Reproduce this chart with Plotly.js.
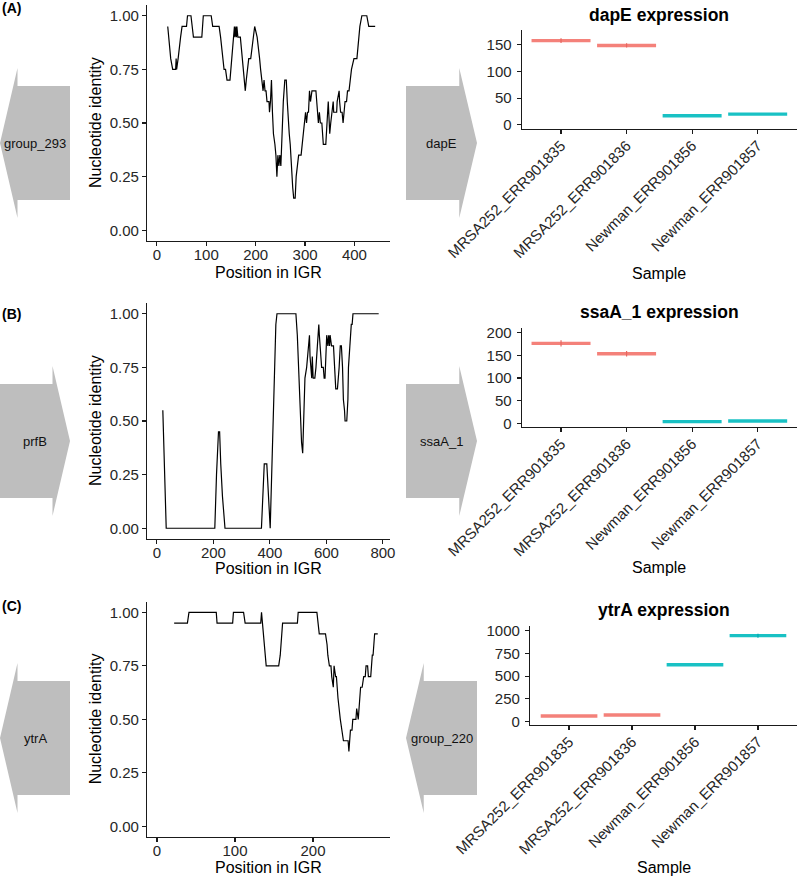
<!DOCTYPE html>
<html><head><meta charset="utf-8">
<script src="https://cdn.plot.ly/plotly-3.0.1.min.js"></script>
<style>html,body{margin:0;padding:0;background:#fff}#chart{width:797px;height:880px}</style>
</head><body><div id="chart"></div>
<script>
// ---------- DATA ----------
const posA = [22,25,28,32,38,39,40,43,45,48,51,60,62,69,74,91,94,110,113,126,129,131,133,136,139,142,148,150,152,153,155,157,158,160,161,162,164,169,171,173,175,177,179,181,183,186,190,193,195,198,203,206,208,210,213,215,217,219,221,223,227,228,230,232,234,236,239,241,243,245,247,249,251,253,256,259,262,264,266,268,270,272,273,275,277,280,282,285,287,292,294,296,299,301,303,305,307,309,311,314,322,324,325,327,329,331,334,335,337,342,343,345,346,347,349,350,352,355,357,358,364,365,369,370,372,375,377,379,381,384,386,389,392,394,399,405,407,409,411,415,425,429,442];
const idA = [0.95,0.85,0.80,0.75,0.75,0.80,0.75,0.80,0.85,0.90,0.95,0.95,1,1,0.90,0.90,1,1,0.95,0.95,0.90,0.85,0.80,0.75,0.75,0.70,0.70,0.75,0.80,0.85,0.90,0.95,0.90,0.95,0.90,0.95,0.90,0.90,0.85,0.80,0.75,0.70,0.65,0.70,0.75,0.80,0.80,0.85,0.90,0.95,0.90,0.85,0.80,0.75,0.70,0.65,0.70,0.65,0.65,0.60,0.60,0.55,0.60,0.70,0.55,0.45,0.40,0.35,0.25,0.35,0.30,0.35,0.30,0.45,0.60,0.70,0.70,0.60,0.50,0.45,0.40,0.30,0.25,0.20,0.15,0.15,0.25,0.30,0.35,0.35,0.40,0.45,0.50,0.55,0.50,0.55,0.55,0.65,0.60,0.65,0.65,0.60,0.55,0.50,0.55,0.50,0.50,0.45,0.40,0.40,0.45,0.50,0.55,0.60,0.50,0.45,0.50,0.55,0.60,0.55,0.55,0.60,0.65,0.60,0.55,0.55,0.50,0.55,0.60,0.60,0.65,0.65,0.70,0.75,0.80,0.80,0.85,0.90,0.95,1,1,0.95,0.95];

const posB = [21,33,205,208,211,218,222,226,232,241,370,380,389,401,421,425,492,497,502,506,512,516,519,521,524,530,534,540,542,545,548,550,553,559,563,568,573,575,580,583,589,592,595,599,601,605,608,611,613,618,625,629,633,639,643,645,649,653,657,660,664,666,672,676,678,682,684,688,691,694,785];
const idB = [0.55,0,0,0.15,0.25,0.45,0.45,0.30,0.15,0,0,0.30,0.30,0,0.95,1,1,0.90,0.75,0.55,0.40,0.35,0.45,0.60,0.70,0.75,0.80,0.90,0.80,0.75,0.70,0.80,0.70,0.70,0.75,0.85,0.95,0.90,0.80,0.75,0.75,0.70,0.70,0.85,0.90,0.85,0.90,0.85,0.90,0.85,0.85,0.75,0.65,0.65,0.70,0.75,0.85,0.85,0.75,0.60,0.55,0.50,0.50,0.60,0.75,0.85,0.90,0.95,0.95,1,1];

const posC = [22,39,41,76,77,97,98,111,113,133,134,140,156,158,161,180,181,205,208,216,218,219,221,223,224,226,227,229,230,232,235,237,239,245,246,247,248,250,251,255,256,258,260,261,263,265,267,268,270,271,274,276,277,279,283];
const idC = [0.95,0.95,1,1,0.95,0.95,1,1,0.95,0.95,1,0.75,0.75,0.80,0.95,0.95,1,1,0.90,0.90,0.85,0.80,0.75,0.75,0.70,0.65,0.75,0.70,0.70,0.60,0.50,0.45,0.40,0.40,0.35,0.40,0.45,0.45,0.50,0.50,0.55,0.50,0.60,0.65,0.65,0.70,0.70,0.75,0.75,0.70,0.70,0.80,0.80,0.90,0.90];

const samples = ['MRSA252_ERR901835','MRSA252_ERR901836','Newman_ERR901856','Newman_ERR901857'];
const strain  = ['MRSA252','MRSA252','Newman','Newman'];
const exprGenes = ['dapE','ssaA_1','ytrA'];
const exprA = [158, 149, 17, 20];   const errA = [4.5, 4, 0, 0];
const exprB = [176.5, 153.5, 3.7, 5.1]; const errB = [7, 6, 0, 0];
const exprC = [62, 73, 626, 945];  const errC = [0, 0, 0, 22];

const panelLabels = ['(A)','(B)','(C)'];
const leftGenes = ['group_293','prfB','ytrA'];   const leftStrand = [-1, 1, -1];
const midGenes  = ['dapE','ssaA_1','group_220']; const midStrand  = [1, 1, -1];

const lineXTicks = [[0,100,200,300,400],[0,200,400,600,800],[0,100,200]];
const idTicks = [0,0.25,0.5,0.75,1];
const idTickText = ['0.00','0.25','0.50','0.75','1.00'];
const exprTicks = [[0,50,100,150],[0,50,100,150,200],[0,250,500,750,1000]];

// ---------- STYLE / GEOMETRY ----------
const W=797,H=880;
const FONT='"Liberation Sans", Arial, Helvetica, sans-serif';
const INK='#1a1a1a';
const strainColor = {MRSA252:'rgba(242,112,104,0.88)', Newman:'rgba(0,186,190,0.9)'};
const errColor = {MRSA252:'#e8675f', Newman:'#00aab0'};
function xd(a,b){return [a/W,b/W];}
function yd(t,b){return [1-b/H,1-t/H];}
const geom = [
 {lineY:[5,241], lineXR:[-20,472], exprX:[521.7,797], exprY:[30,129], exprYR:[-8,178], exprXR:[-0.6,3.6], arrowY:[68,218], labelY:7.5, titleY:15, xTitleY:272, sampleY:273},
 {lineY:[303,539], lineXR:[-35,825], exprX:[521.7,797], exprY:[328.3,427.3], exprYR:[-8.8,209.7], exprXR:[-0.6,3.6], arrowY:[366,516], labelY:314, titleY:311.7, xTitleY:568, sampleY:567},
 {lineY:[601.7,837], lineXR:[-12.8,298.7], exprX:[530,797], exprY:[626,725.3], exprYR:[-40,1051], exprXR:[-0.62,3.62], arrowY:[663,813], labelY:606, titleY:610, xTitleY:867, sampleY:867}
];
const lineX=[147,390], arrowLX=[0,70], arrowMX=[406,477];

const lineData = [[posA,idA],[posB,idB],[posC,idC]];
const exprData = [[exprA,errA],[exprB,errB],[exprC,errC]];

function axName(p,k){return k===1? p+'axis' : p+'axis'+k;}
function ref(p,k){return k===1? p : p+k;}

function arrowPoly(dir){
  const xs=[0,0.75,0.75,1,0.75,0.75,0,0];
  const ys=[0.12,0.12,0,0.5,1,0.88,0.88,0.12];
  return {x: dir>0? xs : xs.map(v=>1-v), y: ys};
}

const baseAxis = {showline:true, linecolor:INK, linewidth:1.1, ticks:'outside', ticklen:4, tickwidth:1.1, tickcolor:INK,
  tickfont:{family:FONT,size:15,color:'#262626'}, showgrid:false, zeroline:false, fixedrange:true};

const traces=[]; const layout={width:W,height:H,margin:{l:0,r:0,t:0,b:0},showlegend:false,
  paper_bgcolor:'#fff',plot_bgcolor:'#fff',font:{family:FONT},annotations:[]};
const ann = layout.annotations;

for(let r=0;r<3;r++){
  const g=geom[r];
  const kL=4*r+1,kE=4*r+2,kA=4*r+3,kM=4*r+4;
  // line chart
  layout[axName('x',kL)] = Object.assign({}, baseAxis, {domain:xd(...lineX), range:g.lineXR, tickvals:lineXTicks[r], ticklabelstandoff:-4, anchor:ref('y',kL)});
  layout[axName('y',kL)] = Object.assign({}, baseAxis, {domain:yd(...g.lineY), range:[-0.05,1.05], tickvals:idTicks, ticktext:idTickText, anchor:ref('x',kL)});
  traces.push({type:'scatter',mode:'lines',x:lineData[r][0],y:lineData[r][1],line:{color:'#000',width:1.2},
    xaxis:ref('x',kL),yaxis:ref('y',kL),hoverinfo:'skip'});
  // expression chart
  layout[axName('x',kE)] = Object.assign({}, baseAxis, {domain:xd(...g.exprX), range:g.exprXR, tickvals:[0,1,2,3], ticktext:samples, tickangle:-45, ticklabelstandoff:-3, anchor:ref('y',kE)});
  layout[axName('y',kE)] = Object.assign({}, baseAxis, {domain:yd(...g.exprY), range:g.exprYR, tickvals:exprTicks[r], ticklabelstandoff:2, anchor:ref('x',kE)});
  const [vals,errs]=exprData[r];
  ['MRSA252','Newman'].forEach(s=>{
    const sx=[],sy=[],mx=[],my=[],me=[];
    vals.forEach((v,i)=>{ if(strain[i]!==s) return;
      sx.push(i-0.45,i+0.45,null); sy.push(v,v,null);
      mx.push(i); my.push(v); me.push(errs[i]); });
    traces.push({type:'scatter',mode:'lines',x:sx,y:sy,line:{color:strainColor[s],width:3.4},
      xaxis:ref('x',kE),yaxis:ref('y',kE),hoverinfo:'skip'});
    traces.push({type:'scatter',mode:'markers',x:mx,y:my,marker:{size:1,color:'rgba(0,0,0,0)'},
      error_y:{type:'data',array:me,visible:true,width:0,thickness:1.2,color:errColor[s]},
      xaxis:ref('x',kE),yaxis:ref('y',kE),hoverinfo:'skip'});
  });
  // gene arrows
  [[kA,arrowLX,leftGenes[r],leftStrand[r]],[kM,arrowMX,midGenes[r],midStrand[r]]].forEach(([k,xr,name,dir])=>{
    layout[axName('x',k)] = {domain:xd(...xr), range:[0,1], visible:false, fixedrange:true, anchor:ref('y',k)};
    layout[axName('y',k)] = {domain:yd(...g.arrowY), range:[0,1], visible:false, fixedrange:true, anchor:ref('x',k)};
    const p=arrowPoly(dir);
    traces.push({type:'scatter',mode:'lines',x:p.x,y:p.y,fill:'toself',fillcolor:'#bebebe',line:{width:0,color:'#bebebe'},
      xaxis:ref('x',k),yaxis:ref('y',k),hoverinfo:'skip'});
    ann.push({xref:ref('x',k),yref:ref('y',k),x:0.5,y:0.5,xanchor:'center',yanchor:'middle',text:name,showarrow:false,
      font:{family:FONT,size:13,color:'#111'}});
  });
  // texts
  ann.push({xref:'paper',yref:'paper',x:0,y:1-g.labelY/H,xanchor:'left',yanchor:'middle',text:'<b>'+panelLabels[r]+'</b>',showarrow:false,font:{family:FONT,size:14,color:'#000'}});
  ann.push({xref:'paper',yref:'paper',x:(g.exprX[0]+g.exprX[1])/2/W,y:1-g.titleY/H,xanchor:'center',yanchor:'middle',text:'<b>'+exprGenes[r]+' expression</b>',showarrow:false,font:{family:FONT,size:17.5,color:'#000'}});
  ann.push({xref:'paper',yref:'paper',x:95/W,y:1-(g.lineY[0]+g.lineY[1])/2/H,xanchor:'center',yanchor:'middle',textangle:-90,text:'Nucleotide identity',showarrow:false,font:{family:FONT,size:16,color:'#000'}});
  ann.push({xref:'paper',yref:'paper',x:(lineX[0]+lineX[1])/2/W,y:1-g.xTitleY/H,xanchor:'center',yanchor:'middle',text:'Position in IGR',showarrow:false,font:{family:FONT,size:16,color:'#000'}});
  ann.push({xref:'paper',yref:'paper',x:(g.exprX[0]+g.exprX[1])/2/W,y:1-g.sampleY/H,xanchor:'center',yanchor:'middle',text:'Sample',showarrow:false,font:{family:FONT,size:16,color:'#000'}});
}

Plotly.newPlot('chart',traces,layout,{staticPlot:true,displayModeBar:false});
</script></body></html>
